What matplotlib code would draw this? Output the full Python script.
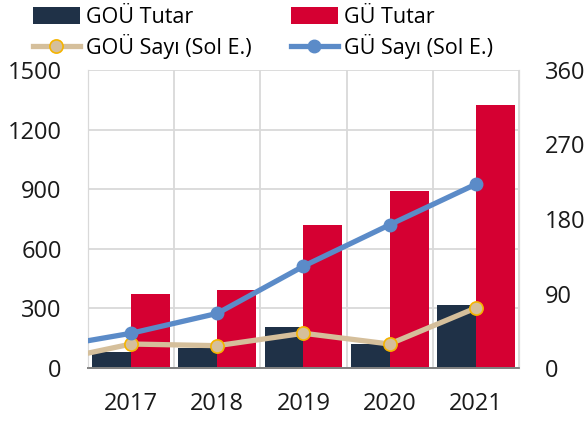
import numpy as np
import matplotlib
matplotlib.use("Agg")
import matplotlib.pyplot as plt

plt.rcParams['font.family'] = ['Open Sans', 'DejaVu Sans']

## DATA
years = ["2017", "2018", "2019", "2020", "2021"]
goy_tutar = [80, 99, 208, 119, 316]
gu_tutar = [371, 392, 720, 893, 1324]
# first entry is the 2016 value, only its stub is visible at the left edge
goy_sayi = [7, 29, 27, 42, 29, 72.5]
gu_sayi = [24, 42, 66, 123, 173, 222]

NAVY = "#1f3147"
RED = "#d50032"
BEIGE = "#d5bf9b"
GOLD = "#f5b400"
BLUE = "#5b8bc8"
GRID = "#d9d9d9"

fig = plt.figure(figsize=(5.87, 4.24), dpi=100)
ax = fig.add_axes([0.150, 0.132, 0.734, 0.703])
ax2 = ax.twinx()

x = np.arange(len(years))
w = 0.452
ax.bar(x - w / 2, goy_tutar, width=w, color=NAVY, label="GOÜ Tutar", zorder=2)
ax.bar(x + w / 2, gu_tutar, width=w, color=RED, label="GÜ Tutar", zorder=2)

xl = np.arange(-1, len(years))
ax2.plot(xl, goy_sayi, color=BEIGE, lw=3.8, marker="o", ms=9.5,
         mfc=BEIGE, mec=GOLD, mew=1.2, label="GOÜ Sayı (Sol E.)", zorder=3)
ax2.plot(xl, gu_sayi, color=BLUE, lw=3.8, marker="o", ms=9,
         mfc=BLUE, mec=BLUE, label="GÜ Sayı (Sol E.)", zorder=4)

ax.set_xlim(-0.5, len(years) - 0.5)
ax.set_ylim(0, 1500)
ax.set_yticks(np.arange(0, 1501, 300))
ax2.set_ylim(0, 360)
ax2.set_yticks(np.arange(0, 361, 90))
ax.set_xticks(x)
ax.set_xticklabels(years)
ax.set_xticks(np.arange(-0.5, len(years), 1), minor=True)

ax.grid(axis="y", which="major", color=GRID, lw=1.3, zorder=0)
ax.grid(axis="x", which="minor", color=GRID, lw=1.3, zorder=0)
ax.set_axisbelow(True)

for a in (ax, ax2):
    a.spines["top"].set_visible(False)
    a.spines["left"].set_color(GRID)
    a.spines["right"].set_color(GRID)
    a.spines["bottom"].set_color("#808080")
    a.spines["bottom"].set_linewidth(1.3)
    a.tick_params(which="both", length=0, labelsize=17, colors="#1a1a1a")
ax.tick_params(axis="y", pad=19)
ax.tick_params(axis="x", pad=17)
ax2.tick_params(axis="y", pad=19)

h1, l1 = ax.get_legend_handles_labels()
h2, l2 = ax2.get_legend_handles_labels()
handles = [h1[0], h2[0], h1[1], h2[1]]
labels = [l1[0], l2[0], l1[1], l2[1]]
fig.legend(handles, labels, ncol=2, loc="upper left", bbox_to_anchor=(0.024, 1.03),
           frameon=False, fontsize=15.5, handlelength=2.14, handleheight=0.85,
           handletextpad=0.28, columnspacing=1.87, labelspacing=0.29)

fig.savefig("out.png", dpi=100)
